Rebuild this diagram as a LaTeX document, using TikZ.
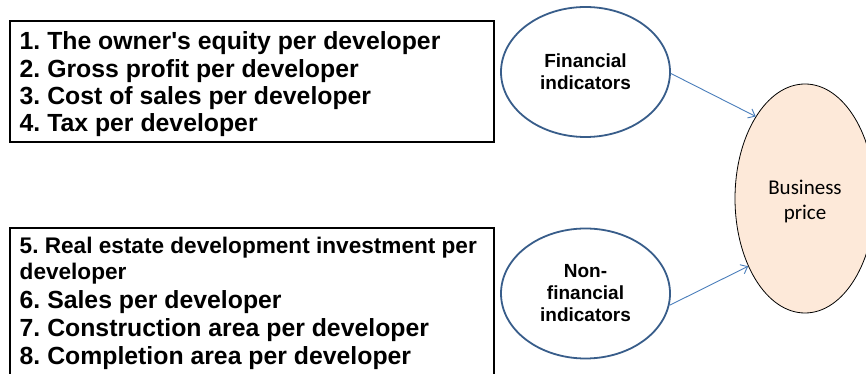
\documentclass[tikz,border=0pt]{standalone}
\usepackage{fontspec}
\setmainfont{Liberation Sans}
\newfontfamily\arialf{Liberation Sans}
\newfontfamily\calib{Carlito}
\usetikzlibrary{shapes.geometric,arrows.meta}
\definecolor{ellblue}{HTML}{385D8A}
\definecolor{arrblue}{HTML}{4A7EBB}
\definecolor{peach}{HTML}{FDE9D9}
\frenchspacing
\begin{document}
\begin{tikzpicture}[x=1pt,y=1pt,
  listbox/.style={draw=black, line width=1.6pt, minimum width=484pt, inner sep=0pt},
  item/.style={anchor=base west, inner sep=0pt, font=\arialf\fontsize{24.8}{27}\selectfont\bfseries},
  itemsmall/.style={anchor=base west, inner sep=0pt, font=\arialf\fontsize{22.6}{25}\selectfont\bfseries},
  indic/.style={ellipse, draw=ellblue, line width=1.8pt, minimum width=169pt, minimum height=130pt, inner sep=0pt, align=center, font=\arialf\fontsize{19}{22}\selectfont\bfseries},
  target/.style={ellipse, draw=black, line width=0.8pt, fill=peach, minimum width=140pt, minimum height=229pt, inner sep=0pt},
  arr/.style={draw=arrblue, line width=0.9pt, -{Straight Barb[length=6pt,width=10pt]}}
]
\useasboundingbox (0,0) rectangle (866,374);
\fill[white] (0,0) rectangle (866,374);
\clip (0,0) rectangle (866,374);

% left boxes
\node[listbox, minimum height=121pt] (box1) at (252,292.5) {};
\node[listbox, minimum height=152pt] (box2) at (252,70) {};

\node[item] (i1) at (19.5,324) {1. The owner's equity per developer};
\node[item] (i2) at (19.5,296.7) {2. Gross profit per developer};
\node[item] (i3) at (19.5,269.3) {3. Cost of sales per developer};
\node[item] (i4) at (19.5,242) {4. Tax per developer};

\node[itemsmall] (i5) at (19.5,120.5) {5. Real estate development investment per};
\node[itemsmall] (i5b) at (19.5,94) {developer};
\node[item] (i6) at (19.5,65) {6. Sales per developer};
\node[item] (i7) at (19.5,37) {7. Construction area per developer};
\node[item] (i8) at (19.5,9) {8. Completion area per developer};

% ellipses
\node[indic] (fin) at (585.5,302) {Financial\\indicators};
\node[indic] (nonfin) at (585.5,80.5) {Non-\\financial\\indicators};
\node[target] (bp) at (805,175.5) {};
\node[font=\calib\fontsize{21}{25}\selectfont, align=center, inner sep=0pt] (bpt) at (805,172.5) {Business\\price};

% connectors
\draw[arr] (fin.-1) -- (bp.121.5);
\draw[arr] (nonfin.-8) -- (bp.230.7);
\end{tikzpicture}
\end{document}
